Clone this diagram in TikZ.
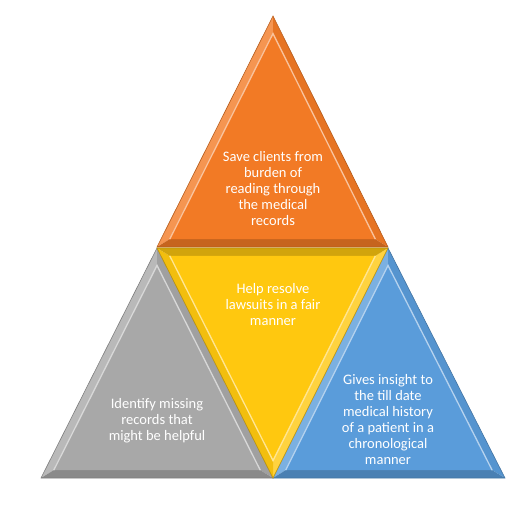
\documentclass[tikz,border=0pt]{standalone}
\usepackage{fontspec}
\setmainfont{Carlito}
\usetikzlibrary{calc}
\definecolor{corange}{HTML}{F27A25}
\definecolor{cgray}{HTML}{A8A8A8}
\definecolor{cyellow}{HTML}{FFC80F}
\definecolor{cblue}{HTML}{5A9CDA}
\tikzset{
  lbl/.style={text=white, align=center, font=\fontsize{14.5}{16}\selectfont, inner sep=0pt},
}
% #1 prefix (coordinates #1a apex, #1b, #1c base, #1i incenter), #2 colour
\newcommand\bevtri[2]{%
  \coordinate (#1A) at ($(#1i)!0.89!(#1a)$);
  \coordinate (#1B) at ($(#1i)!0.89!(#1b)$);
  \coordinate (#1C) at ($(#1i)!0.89!(#1c)$);
  \fill[#2!80!white] (#1a)--(#1b)--(#1B)--(#1A)--cycle;
  \fill[#2!95!black] (#1a)--(#1c)--(#1C)--(#1A)--cycle;
  \fill[#2!82!black] (#1b)--(#1c)--(#1C)--(#1B)--cycle;
  \fill[#2] (#1A)--(#1B)--(#1C)--cycle;
  \draw[#2!45!white, line width=1.3pt] (#1B)--(#1A)--(#1C);
  \draw[#2!75!black, line width=0.6pt] (#1a)--(#1b)--(#1c)--cycle;
}
\begin{document}
\begin{tikzpicture}[x=1pt,y=-1pt]
\useasboundingbox (0,0) rectangle (525,529);
% orange (top)
\coordinate (oa) at (273,16);
\coordinate (ob) at (157,247);
\coordinate (oc) at (388,247);
\coordinate (oi) at (273,175.6);
\bevtri{o}{corange}
% gray (bottom left)
\coordinate (ga) at (157,248);
\coordinate (gb) at (41,478);
\coordinate (gc) at (273,478);
\coordinate (gi) at (157,406.6);
\bevtri{g}{cgray}
% blue (bottom right)
\coordinate (ba) at (388,248);
\coordinate (bb) at (273,478);
\coordinate (bc) at (505,478);
\coordinate (bi) at (388,406.6);
\bevtri{b}{cblue}
% yellow (inverted, middle)
\coordinate (ya) at (273,478);
\coordinate (yb) at (388,248);
\coordinate (yc) at (157,248);
\coordinate (yi) at (273,319.4);
\bevtri{y}{cyellow}
% labels
\node[lbl] (t1) at (273,189) {Save clients from\\burden of\\reading through\\the medical\\records};
\node[lbl] (t2) at (273,305) {Help resolve\\lawsuits in a fair\\manner};
\node[lbl] (t3) at (157,421) {Identify missing\\records that\\might be helpful};
\node[lbl] (t4) at (388,420) {Gives insight to\\the till date\\medical history\\of a patient in a\\chronological\\manner};
\end{tikzpicture}
\end{document}
